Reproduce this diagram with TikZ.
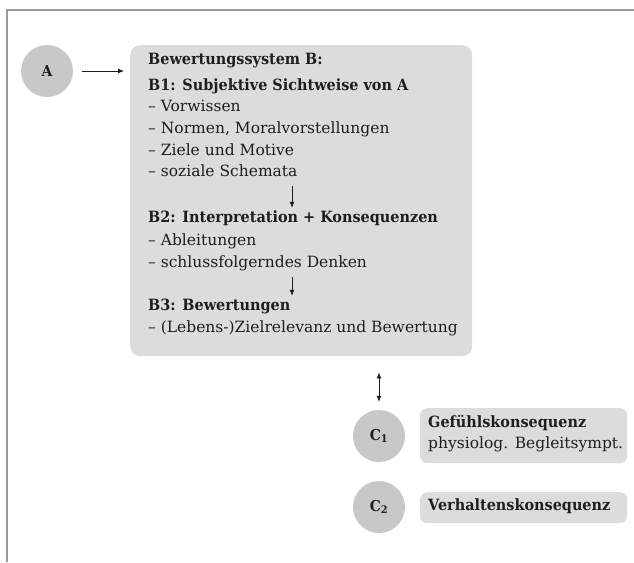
\documentclass[tikz,border=0pt]{standalone}
\usepackage{fontspec}
\setmainfont{DejaVu Serif}[BoldFeatures={FakeStretch=0.93}]
\usetikzlibrary{arrows.meta}
\definecolor{frameclr}{HTML}{9A9A9A}
\definecolor{bubbleclr}{HTML}{C8C8C8}
\definecolor{panelclr}{HTML}{DCDCDC}
\definecolor{inkclr}{HTML}{1E1E1E}
\begin{document}
\begin{tikzpicture}[x=1pt, y=-1pt, color=inkclr,
		bubble/.style={circle, fill=bubbleclr, minimum size=52pt, inner sep=0pt, font=\fontsize{15}{17}\selectfont\bfseries},
		panel/.style={fill=panelclr, rounded corners=10pt, anchor=north west, inner sep=0pt},
		txt/.style={anchor=base west, inner xsep=0pt, inner ysep=3pt, text height=11pt, text depth=4pt, font=\fontsize{15.5}{18}\selectfont},
		head/.style={txt, font=\fontsize{15.5}{18}\selectfont\bfseries},
		tip/.style={line width=0.8pt, -{Latex[length=6pt, width=5pt]}},
		twotip/.style={line width=0.8pt, {Latex[length=6pt, width=5pt]}-{Latex[length=6pt, width=5pt]}}]
		\useasboundingbox (0,0) rectangle (634,562);
		\draw[frameclr, line width=1.5pt] (7,562) -- (7,10) -- (634,10);
		
		\begin{scope}
			\node[bubble] (A) at (47,71) {A};
			\node[panel, minimum width=342pt, minimum height=311pt] (B) at (130,45) {};
			\node[head] (bt) at (148,64) {Bewertungssystem B:};
			\node[head] (b1) at (148,90) {B1: Subjektive Sichtweise von A};
			\foreach \y/\name/\item in {111/b1a/Vorwissen, 133/b1b/{Normen, Moralvorstellungen}, 155/b1c/Ziele und Motive, 176/b1d/soziale Schemata} {
				\node[txt] (\name) at (148,\y) {-- \item};
			}
			\node[head] (b2) at (148,222) {B2: Interpretation + Konsequenzen};
			\node[txt] (b2a) at (148,245) {-- Ableitungen};
			\node[txt] (b2b) at (148,267) {-- schlussfolgerndes Denken};
			\node[head] (b3) at (148,310) {B3: Bewertungen};
			\node[txt] (b3a) at (148,332) {-- (Lebens-)Zielrelevanz und Bewertung};
			\coordinate (mid) at (292,0);
			\draw[tip, shorten <=9pt, shorten >=6pt] (A) -- (A -| B.west);
			\draw[tip, shorten <=3pt] (mid |- b1d.south) -- (mid |- b2.north);
			\draw[tip, shorten <=3pt] (mid |- b2b.south) -- (mid |- b3.north);
		\end{scope}
		
		\begin{scope}
			\node[bubble] (C1) at (379,436) {C\textsubscript{1}};
			\node[bubble] (C2) at (379,507) {C\textsubscript{2}};
			\node[panel, rounded corners=7pt, minimum width=207pt, minimum height=55pt] (g1) at (420,408) {};
			\node[head] (g1t) at (428,427) {Gefühlskonsequenz};
			\node[txt] (g1s) at (428,448) {physiolog. Begleitsympt.};
			\node[panel, rounded corners=7pt, minimum width=207pt, minimum height=31pt] (g2) at (420,492) {};
			\node[head] (g2t) at (428,510) {Verhaltenskonsequenz};
			\draw[twotip, shorten <=16pt, shorten >=8pt] (B.south -| C1) -- (C1);
		\end{scope}
		
	\end{tikzpicture}
\end{document}
